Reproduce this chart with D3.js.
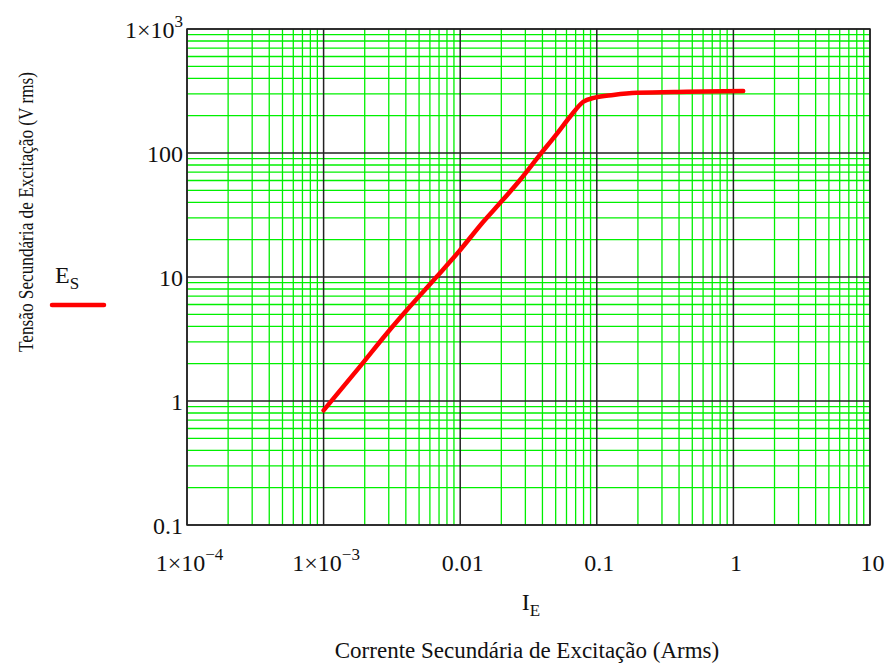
<!DOCTYPE html>
<html>
<head>
<meta charset="utf-8">
<script src="https://cdn.jsdelivr.net/npm/d3@7"></script>
<style>
  html, body { margin: 0; padding: 0; background: #fff; }
  svg { display: block; }
  text { font-family: "Liberation Serif", "Times New Roman", serif; fill: #111; }
</style>
</head>
<body>
<svg id="chart" width="891" height="666"></svg>
<script>
// Secondary excitation current (A rms) vs. secondary excitation voltage (V rms)
const currentIE = [0.001, 0.00185, 0.0029, 0.0043, 0.0067, 0.0099, 0.01476, 0.0195, 0.0274,
                   0.0384, 0.0508, 0.0637, 0.0796, 0.097, 0.132, 0.196, 0.455, 1.18];
const voltageES = [0.84, 1.9, 3.5, 5.8, 10.0, 16.3, 27.9, 39.3, 60.6,
                   97, 142, 196, 259, 280, 294, 306, 312, 316];

// Decade tick values and their labels: [mantissa text, exponent superscript]
const xTickValues = [1e-4, 1e-3, 0.01, 0.1, 1, 10];
const xTickLabels = [["1×10", "−4"], ["1×10", "−3"], ["0.01", ""], ["0.1", ""], ["1", ""], ["10", ""]];
const yTickValues = [0.1, 1, 10, 100, 1000];
const yTickLabels = [["0.1", ""], ["1", ""], ["10", ""], ["100", ""], ["1×10", "3"]];

const svg = d3.select("#chart");
const plot = { left: 187, right: 870, top: 29, bottom: 525 };

const x = d3.scaleLog().domain([1e-4, 10]).range([plot.left, plot.right]);
const y = d3.scaleLog().domain([0.1, 1000]).range([plot.bottom, plot.top]);

const isDecade = v => Math.abs(Math.log10(v) - Math.round(Math.log10(v))) < 1e-9;

// Grid: green minor lines (2..9 of each decade), black decade lines
const xAll = x.ticks(), yAll = y.ticks();
const grid = svg.append("g");
grid.selectAll("line.xminor").data(xAll.filter(v => !isDecade(v))).join("line")
  .attr("x1", d => x(d)).attr("x2", d => x(d))
  .attr("y1", plot.top).attr("y2", plot.bottom)
  .attr("stroke", "#00f000").attr("stroke-width", 1.3);
grid.selectAll("line.yminor").data(yAll.filter(v => !isDecade(v))).join("line")
  .attr("y1", d => y(d)).attr("y2", d => y(d))
  .attr("x1", plot.left).attr("x2", plot.right)
  .attr("stroke", "#00f000").attr("stroke-width", 1.3);
grid.selectAll("line.xmajor").data(xTickValues).join("line")
  .attr("x1", d => x(d)).attr("x2", d => x(d))
  .attr("y1", plot.top).attr("y2", plot.bottom)
  .attr("stroke", "#222").attr("stroke-width", 1.5);
grid.selectAll("line.ymajor").data(yTickValues).join("line")
  .attr("y1", d => y(d)).attr("y2", d => y(d))
  .attr("x1", plot.left).attr("x2", plot.right)
  .attr("stroke", "#222").attr("stroke-width", 1.5);

// Frame
svg.append("rect")
  .attr("x", plot.left).attr("y", plot.top)
  .attr("width", plot.right - plot.left).attr("height", plot.bottom - plot.top)
  .attr("fill", "none").attr("stroke", "#222").attr("stroke-width", 1.5);

// Axes (labels only; the grid supplies the lines)
function addLabel(sel, labels, vals) {
  sel.each(function(d) {
    const i = vals.indexOf(d);
    const t = d3.select(this).text(null);
    t.append("tspan").text(labels[i][0]);
    if (labels[i][1]) {
      t.append("tspan").attr("dy", -11).attr("font-size", 17).text(labels[i][1]);
    }
  });
}

const xAxis = svg.append("g").attr("transform", `translate(0,${plot.bottom})`)
  .call(d3.axisBottom(x).tickValues(xTickValues).tickSize(0).tickPadding(0).tickFormat(() => ""));
xAxis.select(".domain").remove();
xAxis.selectAll("text")
  .attr("y", 46).attr("dy", null).attr("dx", 2)
  .attr("font-size", 24).attr("fill", "#111")
  .attr("font-family", "Liberation Serif, Times New Roman, serif")
  .call(addLabel, xTickLabels, xTickValues);

const yAxis = svg.append("g").attr("transform", `translate(${plot.left},0)`)
  .call(d3.axisLeft(y).tickValues(yTickValues).tickSize(0).tickPadding(0).tickFormat(() => ""));
yAxis.select(".domain").remove();
yAxis.selectAll("text")
  .attr("x", -4).attr("dy", "0.36em")
  .attr("font-size", 24).attr("fill", "#111")
  .attr("font-family", "Liberation Serif, Times New Roman, serif")
  .call(addLabel, yTickLabels, yTickValues);

// Excitation curve
const line = d3.line().x((d, i) => x(currentIE[i])).y(d => y(d)).curve(d3.curveMonotoneX);
svg.append("path")
  .attr("d", line(voltageES))
  .attr("fill", "none").attr("stroke", "#ff0000")
  .attr("stroke-width", 4.5).attr("stroke-linejoin", "round").attr("stroke-linecap", "round");

// Axis variable name under the x axis
const ie = svg.append("text").attr("x", 531).attr("y", 610)
  .attr("text-anchor", "middle").attr("font-size", 24);
ie.append("tspan").text("I");
ie.append("tspan").attr("font-size", 17).attr("dy", 6).text("E");

// Axis titles
svg.append("text").attr("x", 527).attr("y", 658)
  .attr("text-anchor", "middle").attr("font-size", 23)
  .text("Corrente Secundária de Excitação (Arms)");
svg.append("text")
  .attr("transform", "translate(33,212) rotate(-90)")
  .attr("text-anchor", "middle").attr("font-size", 20)
  .attr("textLength", 280).attr("lengthAdjust", "spacingAndGlyphs")
  .text("Tensão Secundária de Excitação (V rms)");

// Legend
const es = svg.append("text").attr("x", 55).attr("y", 283).attr("font-size", 24);
es.append("tspan").text("E");
es.append("tspan").attr("font-size", 17).attr("dy", 6).text("S");
svg.append("line").attr("x1", 52).attr("x2", 104).attr("y1", 305).attr("y2", 305)
  .attr("stroke", "#ff0000").attr("stroke-width", 4.5).attr("stroke-linecap", "round");
</script>
</body>
</html>
